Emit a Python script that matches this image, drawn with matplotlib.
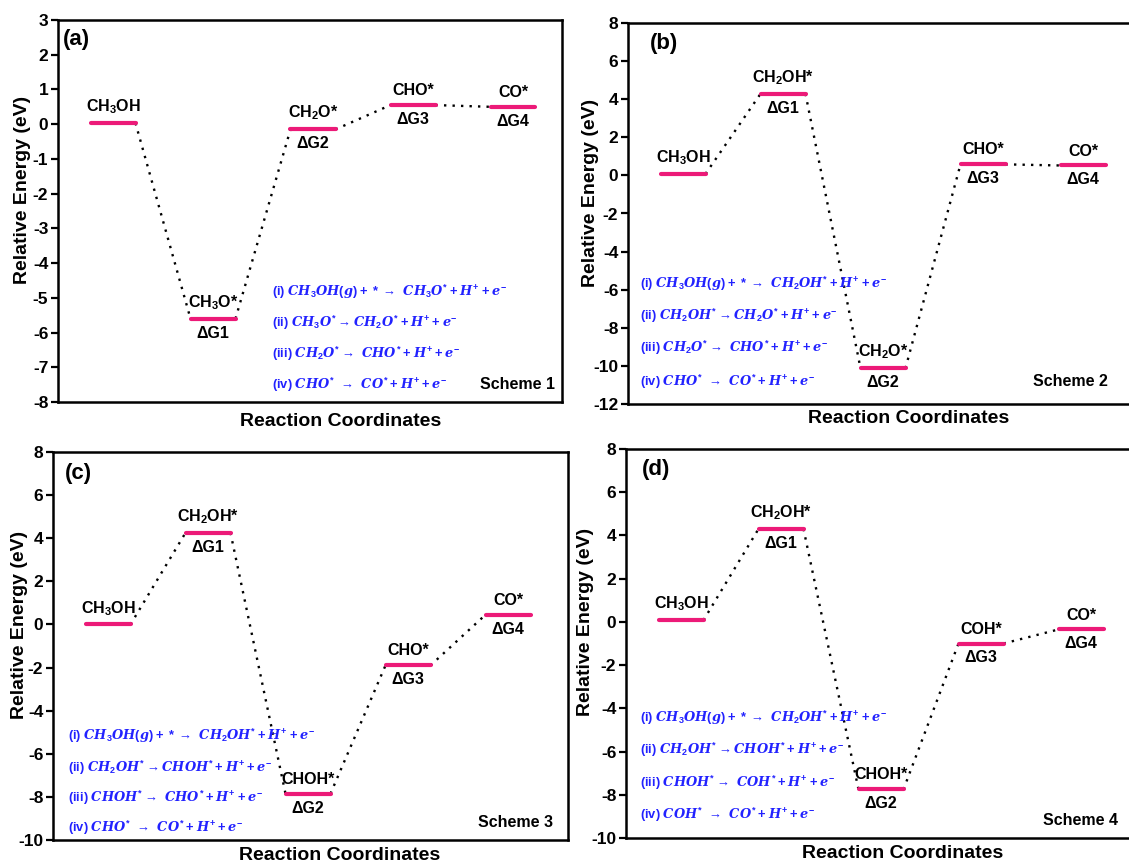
import matplotlib
matplotlib.use("Agg")
import matplotlib.pyplot as plt

plt.rcParams['font.family'] = ['Liberation Sans', 'DejaVu Sans']
plt.rcParams['mathtext.fontset'] = 'custom'
plt.rcParams['mathtext.rm'] = 'Liberation Sans:bold'
plt.rcParams['mathtext.bf'] = 'Liberation Sans:bold'
plt.rcParams['mathtext.it'] = 'DejaVu Serif:italic:bold'

# ---------------- data ----------------
species_a = ['CH$_3$OH', 'CH$_3$O*', 'CH$_2$O*', 'CHO*', 'CO*']
energy_a = [0.03, -5.6, -0.15, 0.55, 0.5]
species_b = ['CH$_3$OH', 'CH$_2$OH*', 'CH$_2$O*', 'CHO*', 'CO*']
energy_b = [0.08, 4.28, -10.12, 0.58, 0.52]
species_c = ['CH$_3$OH', 'CH$_2$OH*', 'CHOH*', 'CHO*', 'CO*']
energy_c = [0.0, 4.25, -7.85, -1.9, 0.45]
species_d = ['CH$_3$OH', 'CH$_2$OH*', 'CHOH*', 'COH*', 'CO*']
energy_d = [0.08, 4.3, -7.75, -1.0, -0.35]
step_labels = ['ΔG1', 'ΔG2', 'ΔG3', 'ΔG4']

eq_a = [r'(i) $CH_3OH(g) + * \rightarrow\ CH_3O^{*} + H^{+} + e^{-}$',
        r'(ii) $CH_3O^{*} \rightarrow CH_2O^{*} + H^{+} + e^{-}$',
        r'(iii) $CH_2O^{*} \rightarrow\ CHO^{*} + H^{+} + e^{-}$',
        r'(iv) $CHO^{*}\ \rightarrow\ CO^{*} + H^{+} + e^{-}$']
eq_b = [r'(i) $CH_3OH(g) + * \rightarrow\ CH_2OH^{*} + H^{+} + e^{-}$',
        r'(ii) $CH_2OH^{*} \rightarrow CH_2O^{*} + H^{+} + e^{-}$',
        r'(iii) $CH_2O^{*} \rightarrow\ CHO^{*} + H^{+} + e^{-}$',
        r'(iv) $CHO^{*}\ \rightarrow\ CO^{*} + H^{+} + e^{-}$']
eq_c = [r'(i) $CH_3OH(g) + * \rightarrow\ CH_2OH^{*} + H^{+} + e^{-}$',
        r'(ii) $CH_2OH^{*} \rightarrow CHOH^{*} + H^{+} + e^{-}$',
        r'(iii) $CHOH^{*} \rightarrow\ CHO^{*} + H^{+} + e^{-}$',
        r'(iv) $CHO^{*}\ \rightarrow\ CO^{*} + H^{+} + e^{-}$']
eq_d = [r'(i) $CH_3OH(g) + * \rightarrow\ CH_2OH^{*} + H^{+} + e^{-}$',
        r'(ii) $CH_2OH^{*} \rightarrow CHOH^{*} + H^{+} + e^{-}$',
        r'(iii) $CHOH^{*} \rightarrow\ COH^{*} + H^{+} + e^{-}$',
        r'(iv) $COH^{*}\ \rightarrow\ CO^{*} + H^{+} + e^{-}$']

panel_tags = ['(a)', '(b)', '(c)', '(d)']
schemes = ['Scheme 1', 'Scheme 2', 'Scheme 3', 'Scheme 4']
yticks_a = list(range(-8, 4, 1))
yticks_b = list(range(-12, 9, 2))
yticks_c = list(range(-10, 9, 2))
yticks_d = list(range(-10, 9, 2))

# ---------------- layout ----------------
W, H = 1129, 864
fig = plt.figure(figsize=(W / 100, H / 100), dpi=100)

def rect(l, r, t, b):
    return [l / W, (H - b) / H, (r - l) / W, (b - t) / H]

panels = [
    dict(rect=rect(58, 562, 20, 402), sp=species_a, en=energy_a, eq=eq_a,
         ylim=(-8, 3), yt=yticks_a, xmax=5.04, eqx=0.425,
         eqy=[0.288, 0.207, 0.126, 0.045], sch=(0.986, 0.045), tag=(0.01, 0.95),
         xl=(0.56, -0.03), yl=-0.071),
    dict(rect=rect(628, 1133, 23, 404), sp=species_b, en=energy_b, eq=eq_b,
         ylim=(-12, 8), yt=yticks_b, xmax=5.05, eqx=0.024,
         eqy=[0.315, 0.231, 0.147, 0.058], sch=(0.95, 0.06), tag=(0.044, 0.945),
         xl=(0.555, -0.017), yl=-0.075),
    dict(rect=rect(53, 568, 452, 840), sp=species_c, en=energy_c, eq=eq_c,
         ylim=(-10, 8), yt=yticks_c, xmax=5.15, eqx=0.029,
         eqy=[0.268, 0.186, 0.108, 0.031], sch=(0.971, 0.046), tag=(0.023, 0.945),
         xl=(0.557, -0.017), yl=-0.066),
    dict(rect=rect(626, 1131, 449, 838), sp=species_d, en=energy_d, eq=eq_d,
         ylim=(-10, 8), yt=yticks_d, xmax=5.05, eqx=0.028,
         eqy=[0.308, 0.226, 0.141, 0.059], sch=(0.974, 0.046), tag=(0.032, 0.948),
         xl=(0.547, -0.017), yl=-0.08),
]

pink = '#EC1A78'
blue = '#2222FF'
hw = 0.225

for i, p in enumerate(panels):
    ax = fig.add_axes(p['rect'])
    xs = [0.55 + k for k in range(len(p['en']))]
    for k, (x, y) in enumerate(zip(xs, p['en'])):
        ax.plot([x - hw, x + hw], [y, y], color=pink, lw=3.0, solid_capstyle='round', zorder=3)
        ax.annotate(p['sp'][k], (x, y), xytext=(0, 5), textcoords='offset points',
                    ha='center', va='bottom', fontsize=11.5, fontweight='bold')
        if k >= 1:
            ax.annotate(step_labels[k - 1], (x, y), xytext=(0, -5), textcoords='offset points',
                        ha='center', va='top', fontsize=11.5, fontweight='bold')
    for k in range(len(xs) - 1):
        ax.plot([xs[k] + hw, xs[k + 1] - hw], [p['en'][k], p['en'][k + 1]],
                color='black', lw=1.7, linestyle=(0, (1, 2.6)), zorder=2)
    for j, (t, yy) in enumerate(zip(p['eq'], p['eqy'])):
        ax.text(p['eqx'], yy, t, transform=ax.transAxes, color=blue, fontsize=9.3,
                fontweight='bold', ha='left', va='center')
    ax.text(p['sch'][0], p['sch'][1], schemes[i], transform=ax.transAxes,
            ha='right', va='center', fontsize=11.5, fontweight='bold')
    ax.text(p['tag'][0], p['tag'][1], panel_tags[i], transform=ax.transAxes,
            ha='left', va='center', fontsize=16, fontweight='bold')
    ax.set_xlim(0, p['xmax'])
    ax.set_ylim(*p['ylim'])
    ax.set_yticks(p['yt'])
    ax.set_yticklabels([str(v) for v in p['yt']], fontweight='bold', fontsize=12.5)
    ax.set_xticks([])
    ax.tick_params(axis='y', direction='out', length=5, width=1.6, pad=2)
    for s in ax.spines.values():
        s.set_linewidth(1.8)
    ax.set_ylabel('Relative Energy (eV)', fontsize=14, fontweight='bold')
    ax.yaxis.set_label_coords(p['yl'], 0.555)
    ax.yaxis.label.set_va('center')
    ax.set_xlabel('Reaction Coordinates', fontsize=14, fontweight='bold')
    ax.xaxis.set_label_coords(p['xl'][0], p['xl'][1])
    ax.xaxis.label.set_va('top')

fig.savefig('out.png', dpi=100)
